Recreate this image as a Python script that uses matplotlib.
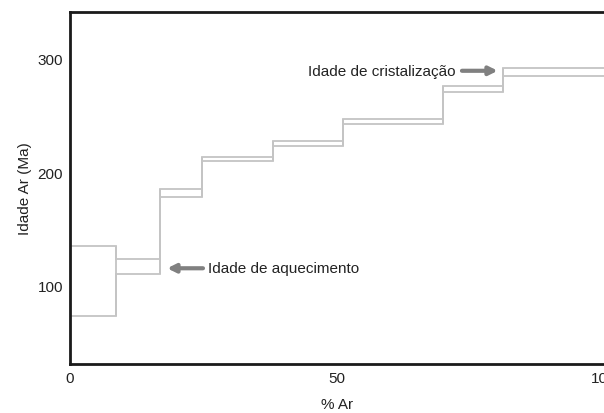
import numpy as np
import matplotlib.pyplot as plt

plt.rcParams['font.family'] = ['Liberation Sans', 'DejaVu Sans']

# step boundaries (% Ar released) and upper/lower age bounds of each step (Ma)
edges = [0, 8.6, 16.8, 24.8, 38.0, 51.1, 69.9, 81.1, 100]
age_upper = [135.1, 123.4, 184.8, 213.5, 227.2, 247.1, 275.4, 291.8]
age_lower = [73.7, 110.5, 177.8, 209.6, 223.1, 242.1, 270.5, 284.2]

yticks = [100, 200, 300]
xticks = [0, 50, 100]

line_col = '#c4c4c4'
txt_col = '#222222'
arrow_col = '#808080'

fig = plt.figure(figsize=(6.04, 4.14), dpi=100)
ax = fig.add_axes([70/604, 1-365/414, 1-70/604, (365-13)/414])

ax.stairs(age_upper, edges, baseline=None, color=line_col, lw=1.3)
ax.stairs(age_lower, edges, baseline=None, color=line_col, lw=1.3)
# vertical connectors at the step boundaries
for i in range(len(edges) - 1):
    lo = age_lower[i] if i == 0 else min(age_lower[i-1], age_lower[i])
    hi = age_upper[i] if i == 0 else max(age_upper[i-1], age_upper[i])
    ax.vlines(edges[i], lo, hi, color=line_col, lw=1.3)

ax.set_xlim(0, 100)
ax.set_ylim(31.3, 340.9)
ax.set_xticks(xticks)
ax.set_yticks(yticks)
ax.tick_params(length=0, labelsize=11, labelcolor=txt_col, pad=5)

for s in ['left', 'bottom', 'top']:
    ax.spines[s].set_linewidth(2)
    ax.spines[s].set_color('#1a1a1a')
ax.spines['right'].set_visible(False)

ax.set_xlabel('% Ar', fontsize=11, color=txt_col, labelpad=9)
ax.set_ylabel('Idade Ar (Ma)', fontsize=11, color=txt_col, labelpad=4)

# annotations
ax.text(72.1, 289.2, 'Idade de cristalização', fontsize=11, color=txt_col,
        ha='right', va='center')
ax.annotate('', xy=(80.1, 289.2), xytext=(73.4, 289.2),
            arrowprops=dict(arrowstyle='-|>', lw=3, color=arrow_col,
                            mutation_scale=12, shrinkA=0, shrinkB=0))
ax.text(25.8, 115.5, 'Idade de aquecimento', fontsize=11, color=txt_col,
        ha='left', va='center')
ax.annotate('', xy=(18.2, 115.5), xytext=(24.9, 115.5),
            arrowprops=dict(arrowstyle='-|>', lw=3, color=arrow_col,
                            mutation_scale=12, shrinkA=0, shrinkB=0))

fig.savefig('out.png', dpi=100)
